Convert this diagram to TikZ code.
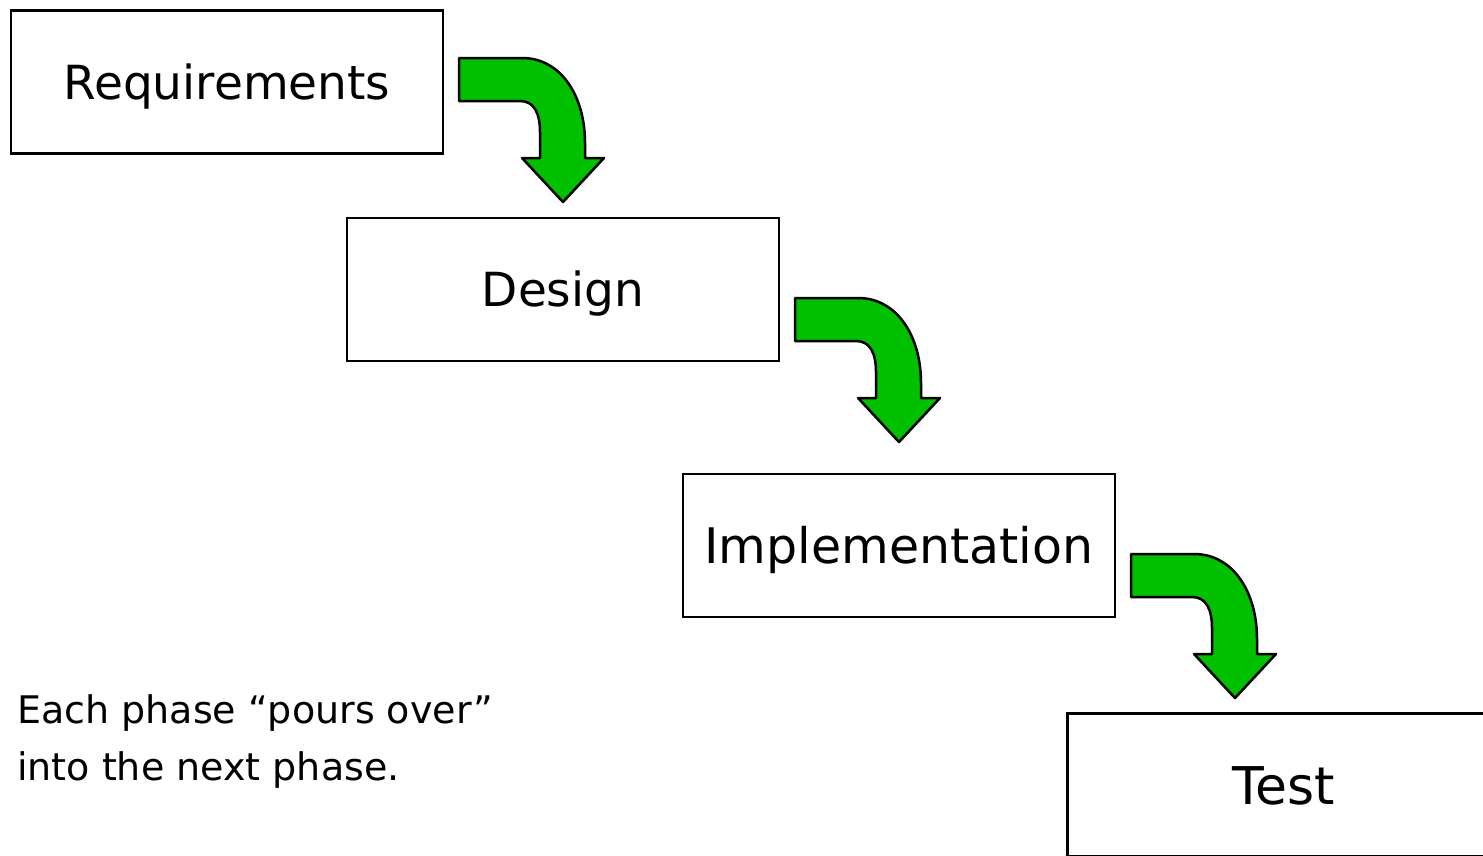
\documentclass[tikz,border=0pt]{standalone}
\usepackage{fontspec}
\setmainfont{DejaVu Sans}
\definecolor{arrowgreen}{RGB}{0,192,0}
\tikzset{
  phasebox/.style={draw=black, line width=2.2pt, fill=white, minimum width=432pt, minimum height=143pt, inner sep=0pt, text depth=0pt},
  bendarrow/.pic={
    \path[draw=black, line width=2.5pt, line join=round, fill=arrowgreen]
      (0,0) -- (63,0) .. controls (102,0) and (126,38) .. (126,85)
      -- (126,100) -- (145,100) -- (104,144) -- (63,100) -- (81,100)
      -- (81,74) .. controls (81,55) and (75,43) .. (61,43) -- (0,43) -- cycle;
  }
}
\begin{document}
\begin{tikzpicture}[x=1pt,y=-1pt]
\useasboundingbox (0,0) rectangle (1483,855);
\clip (0,0) rectangle (1483,855);
\node[phasebox, text height=34pt, font=\fontsize{47}{56}\selectfont] (req) at (227,82) {Requirements};
\node[phasebox, text height=34pt, font=\fontsize{47}{56}\selectfont] (des) at (563,289.5) {Design};
\node[phasebox, text height=36pt, font=\fontsize{49}{58}\selectfont] (imp) at (899,545.5) {Implementation};
\node[phasebox, text height=38pt, font=\fontsize{52}{62}\selectfont] (tst) at (1283.5,785) {Test};
\pic at (459,58) {bendarrow};
\pic at (795,298) {bendarrow};
\pic at (1131,554) {bendarrow};
\node[anchor=base west, inner sep=0pt, align=left, font=\fontsize{38}{57}\selectfont] (note) at (17,780) {Each phase “pours over”\\into the next phase.};
\end{tikzpicture}
\end{document}
